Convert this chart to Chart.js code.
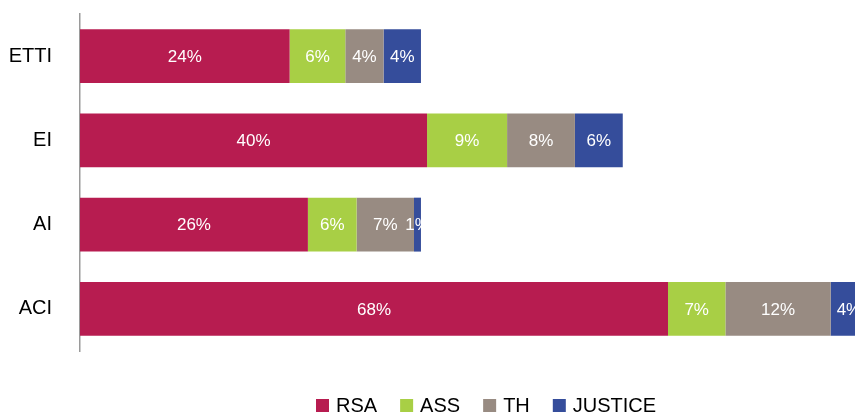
<!DOCTYPE html>
<html>
<head>
<meta charset="utf-8">
<script src="https://cdn.jsdelivr.net/npm/chart.js@4.4.1/dist/chart.umd.min.js"></script>
<style>
  html, body { margin: 0; padding: 0; background: #fff; }
  #wrap { width: 855px; height: 415px; position: relative; }
</style>
</head>
<body>
<div id="wrap"><canvas id="chart"></canvas></div>
<script>
// data (percent)
const categories = ['ETTI', 'EI', 'AI', 'ACI'];
const seriesNames = ['RSA', 'ASS', 'TH', 'JUSTICE'];
const rsaValues = [24.1, 39.9, 26.2, 67.6];
const assValues = [6.4, 9.2, 5.6, 6.6];
const thValues = [4.4, 7.8, 6.6, 12.1];
const justiceValues = [4.3, 5.5, 0.8, 4.2];
const colors = ['#B71C50', '#A8CF45', '#988B82', '#354D9B'];

const FONT = '"Liberation Sans", Arial, sans-serif';

//labels inside each bar segment
const barLabels = {
    id: 'barLabels',
    afterDatasetsDraw(chart) {
        const ctx = chart.ctx;
        ctx.save();
        ctx.font = '17px ' + FONT;
        ctx.fillStyle = '#ffffff';
        ctx.textAlign = 'center';
        ctx.textBaseline = 'middle';
        chart.data.datasets.forEach((ds, i) => {
            chart.getDatasetMeta(i).data.forEach((bar, j) => {
                const x = (bar.x + bar.base) / 2;
                ctx.fillText(Math.round(ds.data[j]) + '%', x, bar.y + 1);
            });
        });
        ctx.restore();
    }
};

//legend drawn by hand so it can sit under the plot
const bottomLegend = {
    id: 'bottomLegend',
    afterDraw(chart) {
        const ctx = chart.ctx;
        ctx.save();
        ctx.font = '20px ' + FONT;
        ctx.textBaseline = 'middle';
        let x = 316;
        const y = 405;
        chart.data.datasets.forEach(ds => {
            ctx.fillStyle = ds.backgroundColor;
            ctx.fillRect(x, y - 6, 13, 13);
            x += 20;
            ctx.fillStyle = '#000';
            ctx.fillText(ds.label, x, y + 1);
            x += ctx.measureText(ds.label).width + 23;
        });
        ctx.restore();
    }
};

const allValues = [rsaValues, assValues, thValues, justiceValues];

const ctx = document.getElementById('chart').getContext('2d');
const chart = new Chart(ctx, {
    type: 'bar',
    data: {
        labels: categories,
        datasets: seriesNames.map((name, i) => ({
            label: name,
            data: allValues[i],
            backgroundColor: colors[i],
            borderWidth: 0,
            categoryPercentage: 0.8,
            barPercentage: 0.8
        }))
    },
    options: {
        indexAxis: 'y',
        responsive: true,
        maintainAspectRatio: false,
        animation: false,
        layout: { padding: { top: 14, right: 0, bottom: 64, left: 0 } },
        scales: {
            x: {
                stacked: true,
                display: false,
                min: 0,
                max: 89.1
            },
            y: {
                stacked: true,
                grid: { display: false, drawTicks: false },
                border: { display: true, color: '#9a9a9a', width: 1.5 },
                ticks: { color: '#000', padding: 28, font: { size: 20, family: FONT } },
                afterFit(scale) {
                    scale.width = 80;
                    // tick padding would otherwise push the plot down
                    scale.paddingTop = 0;
                    scale.paddingBottom = 0;
                }
            }
        },
        plugins: {
            legend: { display: false },
            tooltip: { enabled: false }
        }
    },
    plugins: [barLabels, bottomLegend]
});
</script>
</body>
</html>
